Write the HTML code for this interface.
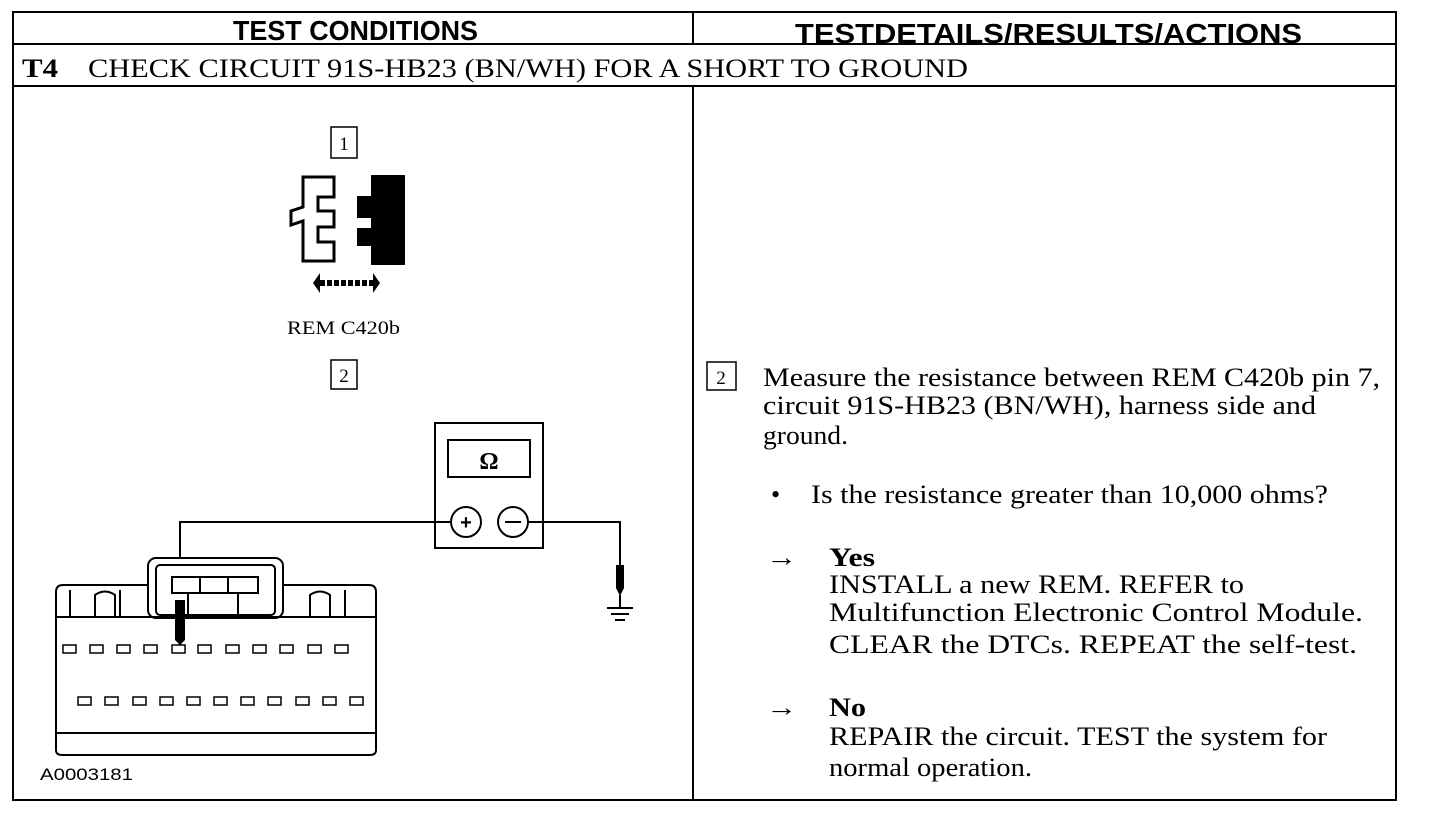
<!DOCTYPE html>
<html><head><meta charset="utf-8"><style>
html,body{margin:0;padding:0;background:#fff;}
svg{display:block}
.h{font-family:"Liberation Sans",sans-serif;font-weight:bold;font-size:28px}
.s{font-family:"Liberation Serif",serif;font-size:26px}
.sm{font-family:"Liberation Serif",serif;font-size:19px}
</style></head><body>
<svg width="1440" height="820" viewBox="0 0 1440 820" xmlns="http://www.w3.org/2000/svg">
<g fill="none" stroke="#000" stroke-width="2">
<rect x="13" y="12" width="1383" height="788"/>
<line x1="13" y1="44" x2="1396" y2="44"/>
<line x1="13" y1="86" x2="1396" y2="86"/>
<line x1="693" y1="12" x2="693" y2="44"/>
<line x1="693" y1="86" x2="693" y2="800"/>
</g>
<text class="h" x="233" y="40" textLength="245" lengthAdjust="spacingAndGlyphs">TEST CONDITIONS</text>
<text class="h" x="795" y="43" textLength="507" lengthAdjust="spacingAndGlyphs">TESTDETAILS/RESULTS/ACTIONS</text>
<text class="s" x="22" y="77" font-weight="bold" textLength="36" lengthAdjust="spacingAndGlyphs">T4</text>
<text class="s" x="88" y="77" textLength="880" lengthAdjust="spacingAndGlyphs">CHECK CIRCUIT 91S-HB23 (BN/WH) FOR A SHORT TO GROUND</text>

<rect x="331" y="127" width="26" height="31" fill="none" stroke="#000" stroke-width="1.5"/>
<text class="sm" x="344" y="150" text-anchor="middle">1</text>
<path d="M303 177 H334 V197 H318 V211 H334 V227 H318 V242 H334 V261 H303 V221 L291 225 V211 L303 207 Z" fill="#fff" stroke="#000" stroke-width="3"/>
<path d="M371 175 H405 V265 H371 V246 H357 V228 H371 V218 H357 V196 H371 Z" fill="#000"/>
<path d="M313 283 L320 273 V293 Z M380 283 L373 273 V293 Z" fill="#000"/>
<g stroke="#000" stroke-width="6"><line x1="320" y1="283" x2="373" y2="283" stroke-dasharray="5,2"/></g>
<text class="sm" x="287" y="334" font-size="18" textLength="113" lengthAdjust="spacingAndGlyphs">REM C420b</text>
<rect x="331" y="360" width="26" height="29" fill="none" stroke="#000" stroke-width="1.5"/>
<text class="sm" x="344" y="382" text-anchor="middle">2</text>

<g fill="none" stroke="#000" stroke-width="2">
<rect x="435" y="423" width="108" height="125"/>
<rect x="448" y="440" width="82" height="37"/>
<circle cx="466" cy="522" r="15"/>
<circle cx="513" cy="522" r="15"/>
<polyline points="451,522 180,522 180,645"/>
<polyline points="528,522 620,522 620,565"/>
<line x1="620" y1="595" x2="620" y2="608"/>
<line x1="607" y1="608" x2="633" y2="608"/>
<line x1="611" y1="614" x2="629" y2="614"/>
<line x1="615" y1="620" x2="625" y2="620"/>
</g>
<path d="M616 565 H624 V588 L620 596 L616 588 Z" fill="#000"/>
<text x="489" y="469" text-anchor="middle" font-family="Liberation Serif,serif" font-weight="bold" font-size="24">Ω</text>
<text x="466" y="529" text-anchor="middle" font-family="Liberation Sans,sans-serif" font-weight="bold" font-size="20">+</text>
<line x1="505" y1="522" x2="521" y2="522" stroke="#000" stroke-width="2"/>

<g fill="none" stroke="#000" stroke-width="2">
<rect x="148" y="558" width="135" height="60" rx="8" fill="#fff"/>
<rect x="156" y="565" width="119" height="50" rx="4"/>
<rect x="172" y="577" width="86" height="16"/>
<line x1="200" y1="577" x2="200" y2="593"/><line x1="228" y1="577" x2="228" y2="593"/>
<rect x="188" y="593" width="50" height="24"/>
<path d="M56 750 V592 Q56 585 63 585 H148 M283 585 H369 Q376 585 376 592 V750 Q376 755 370 755 H62 Q56 755 56 750"/>
<line x1="57" y1="617" x2="375" y2="617"/>
<line x1="57" y1="733" x2="375" y2="733"/>
<path d="M70 617 V590 M95 617 V595 Q105 588 115 595 V617 M120 617 V590 M310 617 V595 Q320 588 330 595 V617 M345 617 V590"/>
</g>
<path d="M175 600 H185 V640 L180 645 L175 640 Z" fill="#000"/>
<g fill="#fff" stroke="#000" stroke-width="1.5">
<rect x="63" y="645" width="13" height="8"/><rect x="90" y="645" width="13" height="8"/><rect x="117" y="645" width="13" height="8"/><rect x="144" y="645" width="13" height="8"/><rect x="172" y="645" width="13" height="8"/><rect x="198" y="645" width="13" height="8"/><rect x="226" y="645" width="13" height="8"/><rect x="253" y="645" width="13" height="8"/><rect x="280" y="645" width="13" height="8"/><rect x="308" y="645" width="13" height="8"/><rect x="335" y="645" width="13" height="8"/>
<rect x="78" y="697" width="13" height="8"/><rect x="105" y="697" width="13" height="8"/><rect x="133" y="697" width="13" height="8"/><rect x="160" y="697" width="13" height="8"/><rect x="187" y="697" width="13" height="8"/><rect x="214" y="697" width="13" height="8"/><rect x="241" y="697" width="13" height="8"/><rect x="268" y="697" width="13" height="8"/><rect x="296" y="697" width="13" height="8"/><rect x="323" y="697" width="13" height="8"/><rect x="350" y="697" width="13" height="8"/>
</g>
<text x="40" y="780" font-family="Liberation Sans,sans-serif" font-size="17" textLength="93" lengthAdjust="spacingAndGlyphs">A0003181</text>

<rect x="707" y="362" width="29" height="28" fill="none" stroke="#000" stroke-width="1.5"/>
<text class="sm" x="721" y="384" text-anchor="middle">2</text>
<text class="s" x="763" y="386" textLength="617" lengthAdjust="spacingAndGlyphs">Measure the resistance between REM C420b pin 7,</text>
<text class="s" x="763" y="414" textLength="553" lengthAdjust="spacingAndGlyphs">circuit 91S-HB23 (BN/WH), harness side and</text>
<text class="s" x="763" y="444" textLength="85" lengthAdjust="spacingAndGlyphs">ground.</text>
<text class="s" x="771" y="503">•</text>
<text class="s" x="811" y="503" textLength="517" lengthAdjust="spacingAndGlyphs">Is the resistance greater than 10,000 ohms?</text>
<text class="s" x="766" y="566" textLength="31" lengthAdjust="spacingAndGlyphs">→</text>
<text class="s" x="829" y="566" font-weight="bold" textLength="46" lengthAdjust="spacingAndGlyphs">Yes</text>
<text class="s" x="829" y="593" textLength="415" lengthAdjust="spacingAndGlyphs">INSTALL a new REM. REFER to</text>
<text class="s" x="829" y="621" textLength="534" lengthAdjust="spacingAndGlyphs">Multifunction Electronic Control Module.</text>
<text class="s" x="829" y="653" textLength="528" lengthAdjust="spacingAndGlyphs">CLEAR the DTCs. REPEAT the self-test.</text>
<text class="s" x="766" y="716" textLength="31" lengthAdjust="spacingAndGlyphs">→</text>
<text class="s" x="829" y="716" font-weight="bold" textLength="37" lengthAdjust="spacingAndGlyphs">No</text>
<text class="s" x="829" y="745" textLength="498" lengthAdjust="spacingAndGlyphs">REPAIR the circuit. TEST the system for</text>
<text class="s" x="829" y="776" textLength="203" lengthAdjust="spacingAndGlyphs">normal operation.</text>
</svg>
</body></html>
